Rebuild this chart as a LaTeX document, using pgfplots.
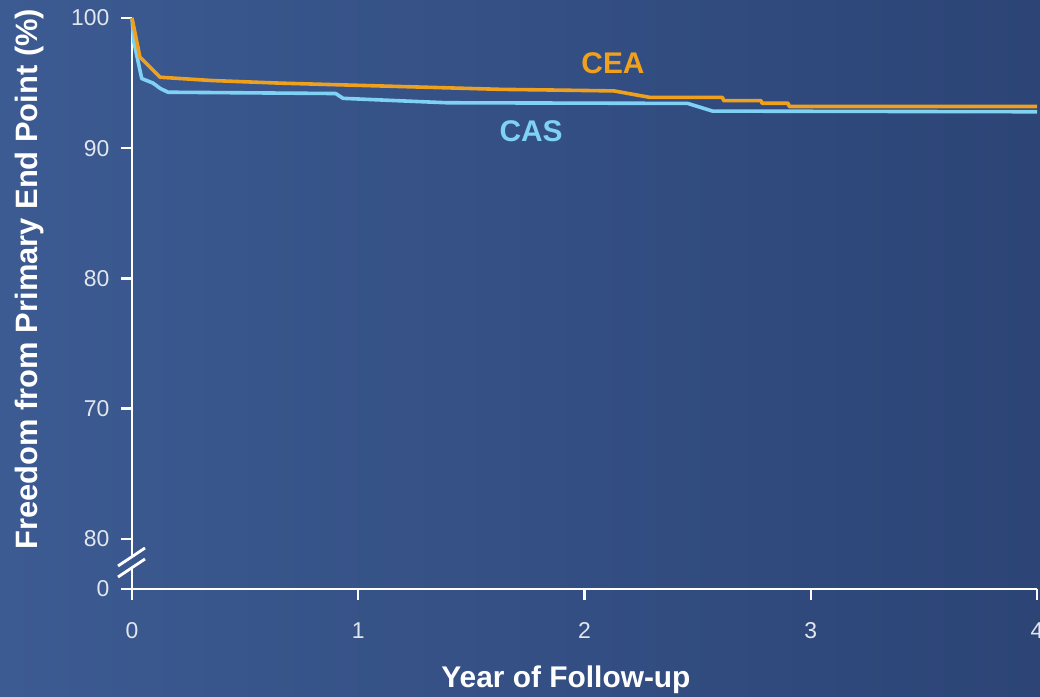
\documentclass[border=0pt]{standalone}
\usepackage{fontspec}
\setmainfont{Liberation Sans}
\usepackage{pgfplots}
\pgfplotsset{compat=1.18}
\usetikzlibrary{backgrounds}

\definecolor{bgL}{HTML}{3C5B92}
\definecolor{bgR}{HTML}{2C4476}
\definecolor{ceaC}{HTML}{EFA11E}
\definecolor{casC}{HTML}{80D2F4}
\definecolor{tickC}{HTML}{E2E6EE}

% Kaplan-Meier estimates: year, freedom from primary end point (%)
\pgfplotstableread{
x y
0     100
0.008 98.2
0.043 95.35
0.093 95.0
0.124 94.6
0.159 94.3
0.90  94.2
0.933 93.83
1.186 93.64
1.392 93.49
2.456 93.44
2.566 92.85
4.0   92.8
}\casdata

\pgfplotstableread{
x y
0     100
0.035 97.0
0.124 95.45
0.35  95.2
0.65  95.0
1.63  94.52
1.85  94.47
2.13  94.4
2.29  93.9
2.61  93.9
2.615 93.65
2.78  93.65
2.785 93.45
2.90  93.45
2.905 93.2
4.0   93.2
}\ceadata

\begin{document}
\begin{tikzpicture}
\begin{axis}[
  name=ax, at={(0,0)}, anchor=south west,
  scale only axis, width=905bp, height=571bp,
  xmin=0, xmax=4, ymin=56.15, ymax=100,
  axis lines=left,
  axis line style={-, white, line width=2.8bp},
  xtick={0,1,2,3,4},
  ytick={56.15,60,70,80,90,100},
  yticklabels={0,80,70,80,90,100},
  tick align=outside, major tick length=11bp,
  tick style={white, line width=2.4bp},
  tick label style={font=\fontsize{23}{27}\selectfont, text=tickC},
  xticklabel style={yshift=-19bp},
  yticklabel style={xshift=-8bp},
  /pgf/number format/assume math mode=true,
  clip=false,
]
\addplot[casC, line width=3.6bp, line join=round] table[x=x,y=y] {\casdata};
\addplot[ceaC, line width=3.6bp, line join=round] table[x=x,y=y] {\ceadata};

\node[font=\fontsize{30}{34}\selectfont\bfseries, text=ceaC] at (axis cs:2.126,96.54) {CEA};
\node[font=\fontsize{30}{34}\selectfont\bfseries, text=casC] at (axis cs:1.764,91.32) {CAS};
\node[font=\fontsize{30}{34}\selectfont\bfseries, text=white] at (axis cs:1.918,49.16) {Year of Follow-up};
\node[font=\fontsize{31}{35}\selectfont\bfseries, text=white, rotate=90] at (axis cs:-0.451,79.95) {Freedom from Primary End Point (\%)};
\end{axis}

\pgfresetboundingbox
\begin{scope}[shift={(ax.south west)}]
  \path[use as bounding box] (-132bp,-108bp) rectangle (908bp,589bp);
  % axis break on the y axis
  \fill[bgL!90!bgR] (-4bp,18.6bp) -- (4bp,23.9bp) -- (4bp,35bp) -- (-4bp,29.6bp) -- cycle;
  \draw[white, line width=2.8bp] (-14bp,23bp) -- (13bp,41bp);
  \draw[white, line width=2.8bp] (-14bp,12bp) -- (13bp,30bp);
\end{scope}

\begin{scope}[on background layer]
  \shade[left color=bgL, right color=bgR]
    ([shift={(-132bp,-108bp)}]ax.south west) rectangle ([shift={(908bp,589bp)}]ax.south west);
\end{scope}
\end{tikzpicture}
\end{document}
